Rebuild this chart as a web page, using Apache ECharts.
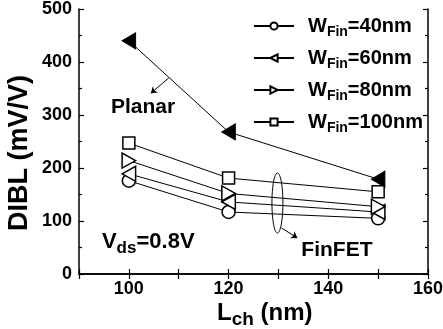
<!DOCTYPE html>
<html>
<head>
<meta charset="utf-8">
<script src="https://cdn.jsdelivr.net/npm/echarts@6/dist/echarts.min.js"></script>
<style>
  html, body { margin: 0; padding: 0; background: #fff; }
  #chart { width: 443px; height: 329px; }
</style>
</head>
<body>
<div id="chart"></div>
<script>
// channel length (nm)
const lch = [100, 120, 150]
// DIBL (mV/V)
const planar = [440, 268, 179]
const fin40 = [176, 117, 105]
const fin60 = [189, 136, 117]
const fin80 = [214, 152, 127]
const fin100 = [247, 181, 155]
const finWidths = ['40nm', '60nm', '80nm', '100nm']
const xTicks = [100, 120, 140, 160]

const FONT = 'Arial, "Liberation Sans", sans-serif'
const leftTri = 'path://M0,5L9,0L9,10Z'
const rightTri = 'path://M9,5L0,0L0,10Z'

const chart = echarts.init(document.getElementById('chart'))

function pts(ys) {
  return lch.map((x, i) => [x, ys[i]])
}

function finSeries(name, ys, symbol, size) {
  return {
    name: name,
    type: 'line',
    data: pts(ys),
    symbol: symbol,
    symbolSize: size,
    symbolKeepAspect: true,
    showAllSymbol: true,
    lineStyle: { color: '#000', width: 1 },
    itemStyle: { color: '#fff', borderColor: '#000', borderWidth: 1.5 },
    emphasis: { disabled: true },
    z: 3
  }
}

const names = finWidths.map(w => 'W_Fin=' + w)

const axisCommon = {
  axisLine: { lineStyle: { color: '#000', width: 1.5 } },
  axisTick: { inside: true, length: 5, lineStyle: { color: '#000', width: 1.2 } },
  splitLine: { show: false }
}

const option = {
  animation: false,
  backgroundColor: '#fff',
  grid: { left: 79, right: 15, top: 9, bottom: 55, outerBoundsMode: 'none', containLabel: false },
  legend: {
    data: names,
    orient: 'vertical',
    left: 253,
    top: 13,
    padding: 0,
    itemWidth: 40,
    itemHeight: 9,
    itemGap: 6,
    selectedMode: false,
    formatter: n => '{g|}{w|W}{s|Fin}{w|=' + n.split('=')[1] + '}',
    textStyle: {
      rich: {
        g: { width: 9, lineHeight: 24 },
        w: { fontFamily: FONT, fontSize: 20, fontWeight: 'bold', color: '#000', lineHeight: 24 },
        s: { fontFamily: FONT, fontSize: 14, fontWeight: 'bold', color: '#000', lineHeight: 24, padding: [12, 0, 0, 0] }
      }
    }
  },
  xAxis: [
    Object.assign({}, axisCommon, {
      type: 'value', min: 90, max: 160, interval: 10, position: 'bottom',
      axisLabel: {
        margin: 6, color: '#000', fontFamily: FONT, fontSize: 18, fontWeight: 'bold',
        formatter: v => (xTicks.indexOf(v) >= 0 ? String(v) : '')
      }
    }),
    Object.assign({}, axisCommon, {
      type: 'value', min: 90, max: 160, interval: 10, position: 'top',
      axisLabel: { show: false }
    })
  ],
  yAxis: [
    Object.assign({}, axisCommon, {
      type: 'value', min: 0, max: 500, interval: 100, position: 'left',
      minorTick: { show: true, splitNumber: 2, length: 3, lineStyle: { color: '#000', width: 1.2 } },
      axisLabel: { margin: 7, color: '#000', fontFamily: FONT, fontSize: 18, fontWeight: 'bold' }
    }),
    Object.assign({}, axisCommon, {
      type: 'value', min: 0, max: 500, interval: 100, position: 'right',
      minorTick: { show: true, splitNumber: 2, length: 3, lineStyle: { color: '#000', width: 1.2 } },
      axisLabel: { show: false }
    })
  ],
  series: [
    {
      name: 'Planar',
      type: 'line',
      data: pts(planar),
      symbol: leftTri,
      symbolSize: [15, 16],
      symbolKeepAspect: true,
      lineStyle: { color: '#000', width: 1 },
      itemStyle: { color: '#000', borderColor: '#000', borderWidth: 1 },
      emphasis: { disabled: true },
      z: 3
    },
    finSeries(names[0], fin40, 'circle', 13),
    finSeries(names[1], fin60, leftTri, 15),
    finSeries(names[2], fin80, rightTri, 15),
    finSeries(names[3], fin100, 'rect', 12),
    {
      // annotation arrows
      type: 'line',
      data: [],
      silent: true,
      markLine: {
        silent: true,
        symbol: ['none', 'arrow'],
        symbolSize: 6,
        label: { show: false },
        lineStyle: { color: '#000', width: 1, type: 'solid' },
        data: [
          [{ coord: [108, 370] }, { coord: [104.4, 341] }],
          [{ coord: [130.6, 87] }, { coord: [133.8, 68] }]
        ]
      }
    }
  ]
}

chart.setOption(option)

// annotations placed in data coordinates
const px = (x, y) => chart.convertToPixel({ xAxisIndex: 0, yAxisIndex: 0 }, [x, y])
const txt = { fontFamily: FONT, fontWeight: 'bold', fill: '#000' }
const c = px(129.8, 134)
const pPlanar = px(96.4, 315)
const pFin = px(134.6, 45)
const pVds = px(94.6, 60)

chart.setOption({
  graphic: [
    {
      type: 'ellipse',
      shape: { cx: c[0], cy: c[1], rx: 5.5, ry: 30 },
      style: { fill: 'none', stroke: '#000', lineWidth: 1 },
      silent: true
    },
    {
      type: 'text', x: pPlanar[0], y: pPlanar[1], silent: true,
      style: Object.assign({ text: 'Planar', fontSize: 21, verticalAlign: 'middle' }, txt)
    },
    {
      type: 'text', x: pFin[0], y: pFin[1], silent: true,
      style: Object.assign({ text: 'FinFET', fontSize: 21, verticalAlign: 'middle' }, txt)
    },
    {
      type: 'text', x: pVds[0], y: pVds[1], silent: true,
      style: {
        text: '{a|V}{b|ds}{a|=0.8V}',
        verticalAlign: 'middle',
        rich: {
          a: Object.assign({ fontSize: 22, lineHeight: 26 }, txt, { color: '#000' }),
          b: Object.assign({ fontSize: 17, lineHeight: 26, padding: [12, 0, 0, 0] }, txt, { color: '#000' })
        }
      }
    },
    {
      type: 'text', x: 217, y: 313, silent: true,
      style: {
        text: '{a|L}{b|ch}{a| (nm)}',
        verticalAlign: 'middle',
        rich: {
          a: Object.assign({ fontSize: 24, lineHeight: 28 }, txt, { color: '#000' }),
          b: Object.assign({ fontSize: 19, lineHeight: 28, padding: [14, 0, 0, 0] }, txt, { color: '#000' })
        }
      }
    },
    {
      type: 'text', x: 20, y: 153, rotation: Math.PI / 2, silent: true,
      style: Object.assign({ text: 'DIBL (mV/V)', fontSize: 27, align: 'center', verticalAlign: 'middle' }, txt)
    }
  ]
})
</script>
</body>
</html>
